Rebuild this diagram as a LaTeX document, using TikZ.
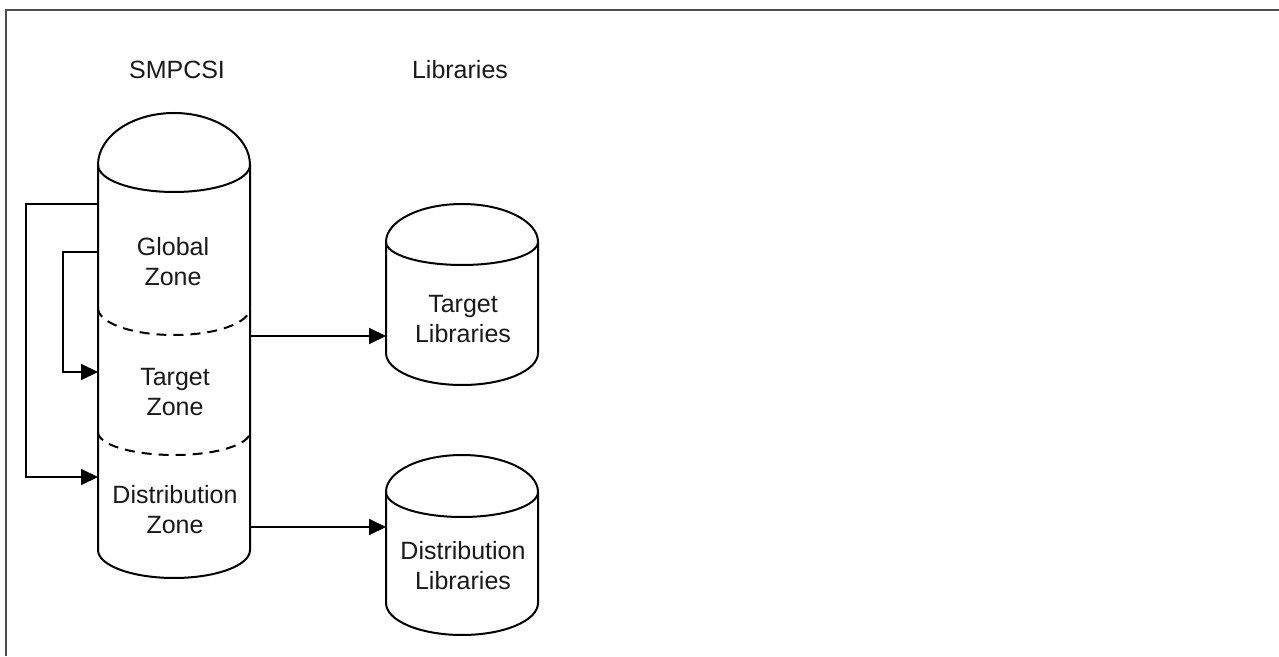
\documentclass[tikz,border=0pt]{standalone}
\usepackage{fontspec}
\setmainfont{Liberation Sans}
\usetikzlibrary{arrows.meta}
\begin{document}
\begin{tikzpicture}[x=1pt,y=1pt,
  cyl/.style={line width=2pt, line join=round},
  sepline/.style={line width=2pt, dash pattern=on 10pt off 7pt},
  lbl/.style={font=\fontsize{25}{30}\selectfont, align=center, inner sep=0pt, text=black!90},
  conn/.style={line width=2pt, -{Triangle[length=17pt,width=16pt]}},
  framel/.style={line width=2pt, black!70}]
\useasboundingbox (0,0) rectangle (1279,656);
% partial frame
\coordinate (fbl) at (6,0);
\coordinate (ftl) at (6,646);
\coordinate (ftr) at (1279,646);
\draw[framel] (fbl) -- (ftl) -- (ftr);

% SMPCSI cylinder
\draw[cyl] (98,491) arc[start angle=180,end angle=0,x radius=76,y radius=52];
\draw[cyl] (98,491) arc[start angle=180,end angle=360,x radius=76,y radius=27];
\draw[cyl] (98,491) -- (98,106) arc[start angle=180,end angle=360,x radius=76,y radius=28] -- (250,491);
\draw[sepline] (98,348) arc[start angle=180,end angle=360,x radius=76,y radius=27];
\draw[sepline] (98,224) arc[start angle=180,end angle=360,x radius=76,y radius=23];

% Target Libraries cylinder
\draw[cyl] (386,414) arc[start angle=180,end angle=0,x radius=76,y radius=38];
\draw[cyl] (386,414) arc[start angle=180,end angle=360,x radius=76,y radius=23];
\draw[cyl] (386,414) -- (386,303) arc[start angle=180,end angle=360,x radius=76,y radius=32] -- (538,414);

% Distribution Libraries cylinder
\draw[cyl] (386,164) arc[start angle=180,end angle=0,x radius=76,y radius=37];
\draw[cyl] (386,164) arc[start angle=180,end angle=360,x radius=76,y radius=25];
\draw[cyl] (386,164) -- (386,53) arc[start angle=180,end angle=360,x radius=76,y radius=32] -- (538,164);

% labels
\node[lbl, anchor=base] (smpcsi) at (177,577.5) {SMPCSI};
\node[lbl, anchor=base] (libs) at (460,577.5) {Libraries};
\node[lbl] (gz) at (173,394) {Global\\Zone};
\node[lbl] (tz) at (175,264) {Target\\Zone};
\node[lbl] (dz) at (175,146) {Distribution\\Zone};
\node[lbl] (tl) at (463,337) {Target\\Libraries};
\node[lbl] (dl) at (463,90) {Distribution\\Libraries};

% connector anchor points
\coordinate (tzOut) at (250,320);
\coordinate (tlIn) at (386,320);
\coordinate (dzOut) at (250,129);
\coordinate (dlIn) at (386,129);
\coordinate (gzOutA) at (98,452);
\coordinate (dzIn) at (98,179);
\coordinate (gzOutB) at (98,404);
\coordinate (tzIn) at (98,284);

\draw[conn] (tzOut) -- (tlIn);
\draw[conn] (dzOut) -- (dlIn);
\draw[conn] (gzOutA) -- (26,452) -- (26,179) -- (dzIn);
\draw[conn] (gzOutB) -- (63,404) -- (63,284) -- (tzIn);
\end{tikzpicture}
\end{document}
